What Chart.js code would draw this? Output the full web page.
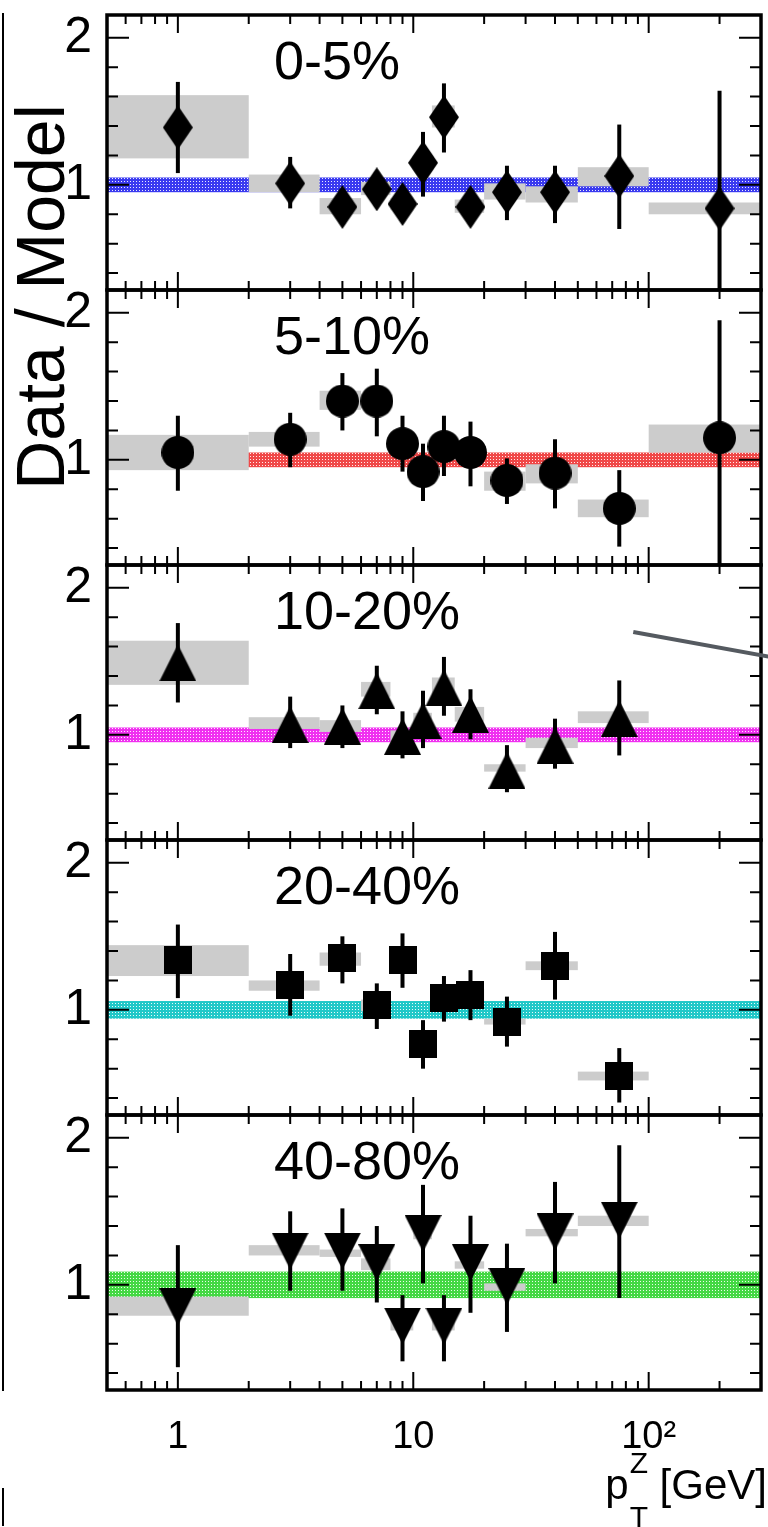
<!DOCTYPE html>
<html>
<head>
<meta charset="utf-8">
<script src="https://cdn.jsdelivr.net/npm/chart.js@4.4.1/dist/chart.umd.min.js"></script>
<style>
  html, body { margin: 0; padding: 0; background: #fff; }
  #wrap { position: relative; width: 768px; height: 1527px; overflow: hidden; font-family: "Liberation Sans", Arial, Helvetica, sans-serif; }
  #wrap canvas { position: absolute; left: 0; }
  #ytitle { position: absolute; left: 40px; top: 297px; transform: translate(-50%, -50%) rotate(-90deg); font-size: 68px; line-height: 1; white-space: nowrap; color: #000; }
  .edge { position: absolute; left: 2px; width: 0; border-left: 2px solid #000; }
</style>
</head>
<body>
<div id="wrap">
  <div class="edge" style="top:13px;height:1378px"></div>
  <div class="edge" style="top:1488px;height:38px"></div>
  <div id="ytitle">Data / Model</div>
  <canvas id="c0" width="768" height="305" style="top:0px"></canvas>
  <canvas id="c1" width="768" height="305" style="top:275px"></canvas>
  <canvas id="c2" width="768" height="305" style="top:550px"></canvas>
  <canvas id="c3" width="768" height="305" style="top:825px"></canvas>
  <canvas id="c4" width="768" height="427" style="top:1100px"></canvas>
</div>
<script>
// pT bins (GeV)
const ptCenters = [1, 3, 5, 7, 9, 11, 13.5, 17.5, 25, 40, 75, 200];
const binLo = [0.5, 2, 4, 6, 8, 10, 12, 15, 20, 30, 50, 100];
const binHi = [2, 4, 6, 8, 10, 12, 15, 20, 30, 50, 100, 300];

const xTickLabels = { 1: '1', 10: '10', 100: '10²' };
const yTickLabels = { 1: '1', 2: '2' };

const centralityLabels = ['0-5%', '5-10%', '10-20%', '20-40%', '40-80%'];

// 0-5%
const ratio0 = [1.39, 1.01, 0.85, 0.97, 0.87, 1.15, 1.46, 0.85, 0.95, 0.95, 1.06, 0.84];
const errHi0 = [1.70, 1.19, 0.95, 1.07, 0.97, 1.36, 1.69, 0.95, 1.13, 1.13, 1.41, 1.64];
const errLo0 = [1.08, 0.84, 0.75, 0.87, 0.77, 0.92, 1.22, 0.76, 0.76, 0.74, 0.70, 0.20];
const sysLo0 = [1.18, 0.95, 0.80, 0.93, 0.83, 1.11, 1.39, 0.81, 0.90, 0.88, 0.99, 0.80];
const sysHi0 = [1.61, 1.07, 0.91, 1.02, 0.91, 1.19, 1.54, 0.90, 1.01, 0.99, 1.12, 0.88];

// 5-10%
const ratio1 = [1.05, 1.14, 1.40, 1.40, 1.11, 0.92, 1.09, 1.05, 0.86, 0.91, 0.67, 1.15];
const errHi1 = [1.30, 1.32, 1.59, 1.62, 1.30, 1.11, 1.30, 1.26, 1.01, 1.14, 0.93, 1.95];
const errLo1 = [0.79, 0.95, 1.20, 1.16, 0.92, 0.72, 0.89, 0.82, 0.70, 0.67, 0.41, 0.20];
const sysLo1 = [0.93, 1.09, 1.34, 1.35, 1.06, 0.88, 1.04, 1.00, 0.79, 0.84, 0.61, 1.05];
const sysHi1 = [1.17, 1.19, 1.47, 1.45, 1.16, 0.97, 1.14, 1.10, 0.92, 0.97, 0.73, 1.24];

// 10-20%
const ratio2 = [1.49, 1.07, 1.06, 1.30, 0.99, 1.10, 1.32, 1.14, 0.76, 0.93, 1.11];
const errHi2 = [1.76, 1.26, 1.20, 1.47, 1.16, 1.30, 1.53, 1.31, 0.93, 1.11, 1.37];
const errLo2 = [1.22, 0.91, 0.91, 1.14, 0.84, 0.91, 1.13, 0.97, 0.61, 0.77, 0.86];
const sysLo2 = [1.34, 1.04, 1.02, 1.26, 0.95, 1.05, 1.26, 1.09, 0.75, 0.91, 1.08];
const sysHi2 = [1.64, 1.12, 1.10, 1.36, 1.03, 1.15, 1.39, 1.19, 0.80, 0.98, 1.16];

// 20-40%
const ratio3 = [1.34, 1.17, 1.35, 1.03, 1.34, 0.77, 1.08, 1.10, 0.92, 1.30, 0.55];
const errHi3 = [1.58, 1.38, 1.50, 1.18, 1.52, 0.93, 1.23, 1.27, 1.09, 1.53, 0.74];
const errLo3 = [1.08, 0.96, 1.18, 0.87, 1.15, 0.60, 0.92, 0.93, 0.75, 1.07, 0.37];
const sysLo3 = [1.23, 1.13, 1.30, 0.99, 1.30, 0.73, 1.04, 1.06, 0.90, 1.27, 0.52];
const sysHi3 = [1.44, 1.20, 1.39, 1.07, 1.38, 0.81, 1.12, 1.14, 0.94, 1.33, 0.58];

// 40-80%
const ratio4 = [0.85, 1.23, 1.23, 1.15, 0.72, 1.35, 0.72, 1.15, 0.99, 1.36, 1.44];
const errHi4 = [1.27, 1.50, 1.52, 1.40, 0.93, 1.68, 0.93, 1.47, 1.28, 1.70, 1.95];
const errLo4 = [0.44, 0.96, 0.96, 0.88, 0.48, 1.01, 0.48, 0.81, 0.68, 1.01, 0.91];
const sysLo4 = [0.79, 1.20, 1.19, 1.10, 0.69, 1.31, 0.69, 1.11, 0.96, 1.33, 1.40];
const sysHi4 = [0.92, 1.27, 1.24, 1.18, 0.76, 1.39, 0.76, 1.16, 1.01, 1.38, 1.47];

// model uncertainty bands
const bandLo = [0.95, 0.95, 0.95, 0.94, 0.91];
const bandHi = [1.05, 1.05, 1.05, 1.06, 1.09];
const bandColors = ['#3a3af0', '#f04848', '#f030f0', '#20c8c8', '#44d844'];

// stray line from the neighbouring panel (data coords of panel 10-20%)
const strayLineX = [86, 330];
const strayLineY = [1.70, 1.53];

const Y_MIN = 0.285, Y_MAX = 2.155;
const X_MIN = 0.5, X_MAX = 300;
const FONT = '"Liberation Sans", Arial, Helvetica, sans-serif';

Chart.defaults.font.family = FONT;
Chart.defaults.color = '#000';

// sparse white dots laid over the solid band colour
function dotPattern(ctx) {
    const c = document.createElement('canvas');
    c.width = 3; c.height = 3;
    const g = c.getContext('2d');
    g.fillStyle = 'rgba(255,255,255,0.9)';
    g.fillRect(1, 1, 1, 1);
    return ctx.createPattern(c, 'repeat');
}

function marker(shape, w, h) {
    const c = document.createElement('canvas');
    c.width = w; c.height = h;
    const g = c.getContext('2d');
    g.fillStyle = '#000';
    g.beginPath();
    if (shape === 'diamond') {
        g.moveTo(w / 2, 0); g.lineTo(w, h / 2); g.lineTo(w / 2, h); g.lineTo(0, h / 2);
    } else if (shape === 'circle') {
        g.arc(w / 2, h / 2, w / 2, 0, Math.PI * 2);
    } else if (shape === 'up') {
        g.moveTo(w / 2, 0); g.lineTo(w, h); g.lineTo(0, h);
    } else if (shape === 'down') {
        g.moveTo(0, 0); g.lineTo(w, 0); g.lineTo(w / 2, h);
    } else {
        g.rect(0, 0, w, h);
    }
    g.closePath();
    g.fill();
    return c;
}

const markers = [
    marker('diamond', 30, 44),
    marker('circle', 33, 33),
    marker('up', 37, 37),
    marker('square', 28, 28),
    marker('down', 37, 37)
];

const panels = [
    { ratio: ratio0, hi: errHi0, lo: errLo0, sLo: sysLo0, sHi: sysHi0 },
    { ratio: ratio1, hi: errHi1, lo: errLo1, sLo: sysLo1, sHi: sysHi1 },
    { ratio: ratio2, hi: errHi2, lo: errLo2, sLo: sysLo2, sHi: sysHi2 },
    { ratio: ratio3, hi: errHi3, lo: errLo3, sLo: sysLo3, sHi: sysHi3 },
    { ratio: ratio4, hi: errHi4, lo: errLo4, sLo: sysLo4, sHi: sysHi4 }
];

// Bands, systematic boxes and error bars under the markers; frame and ticks on top
const panelPlugin = {
    id: 'panel',
    beforeDatasetsDraw(chart, args, opts) {
        const { ctx, chartArea: a, scales: { x, y } } = chart;
        const p = panels[opts.index];
        ctx.save();
        ctx.beginPath();
        ctx.rect(a.left, a.top, a.right - a.left, a.bottom - a.top);
        ctx.clip();

        const bTop = y.getPixelForValue(bandHi[opts.index]);
        const bBot = y.getPixelForValue(bandLo[opts.index]);
        ctx.fillStyle = bandColors[opts.index];
        ctx.fillRect(a.left, bTop, a.right - a.left, bBot - bTop);
        ctx.fillStyle = dotPattern(ctx);
        ctx.fillRect(a.left, bTop, a.right - a.left, bBot - bTop);

        ctx.fillStyle = '#cccccc';
        p.ratio.forEach((v, i) => {
            const x0 = x.getPixelForValue(binLo[i]);
            const x1 = x.getPixelForValue(binHi[i]);
            const y0 = y.getPixelForValue(p.sHi[i]);
            const y1 = y.getPixelForValue(p.sLo[i]);
            ctx.fillRect(x0, y0, x1 - x0, y1 - y0);
        });

        ctx.strokeStyle = '#000';
        ctx.lineWidth = 4;
        p.ratio.forEach((v, i) => {
            const px = x.getPixelForValue(ptCenters[i]);
            ctx.beginPath();
            ctx.moveTo(px, y.getPixelForValue(p.hi[i]));
            ctx.lineTo(px, y.getPixelForValue(p.lo[i]));
            ctx.stroke();
        });
        ctx.restore();
    },
    afterDatasetsDraw(chart, args, opts) {
        const { ctx, chartArea: a, scales: { x, y } } = chart;
        ctx.save();
        ctx.strokeStyle = '#000';
        ctx.lineWidth = 2;

        // x ticks, top and bottom, pointing inwards
        for (let e = -1; e <= 2; e++) {
            for (let m = 1; m <= 9; m++) {
                const v = m * Math.pow(10, e);
                if (v < X_MIN || v > X_MAX) continue;
                const px = x.getPixelForValue(v);
                const len = m === 1 ? 18 : 9;
                ctx.beginPath();
                ctx.moveTo(px, a.top); ctx.lineTo(px, a.top + len);
                ctx.moveTo(px, a.bottom); ctx.lineTo(px, a.bottom - len);
                ctx.stroke();
            }
        }
        // y ticks, left and right
        for (let k = 2; k <= 10; k++) {
            const v = k * 0.2;
            const py = y.getPixelForValue(v);
            const len = (k % 5 === 0) ? 22 : 11;
            ctx.beginPath();
            ctx.moveTo(a.left, py); ctx.lineTo(a.left + len, py);
            ctx.moveTo(a.right, py); ctx.lineTo(a.right - len, py);
            ctx.stroke();
        }

        ctx.lineWidth = 3.5;
        ctx.strokeRect(a.left, a.top, a.right - a.left, a.bottom - a.top);

        ctx.fillStyle = '#000';
        ctx.font = '54px ' + FONT;
        ctx.textBaseline = 'alphabetic';
        ctx.textAlign = 'left';
        ctx.fillText(centralityLabels[opts.index], 274, a.top + 64);

        if (opts.index === 2) {
            ctx.strokeStyle = '#555a60';
            ctx.lineWidth = 4;
            ctx.beginPath();
            ctx.moveTo(x.getPixelForValue(strayLineX[0]), y.getPixelForValue(strayLineY[0]));
            ctx.lineTo(x.getPixelForValue(strayLineX[1]), y.getPixelForValue(strayLineY[1]));
            ctx.stroke();
        }

        if (opts.index === 4) {
            // p_T^Z [GeV]
            const base = a.bottom + 109;
            ctx.textBaseline = 'alphabetic';
            ctx.font = '42px ' + FONT;
            const wP = ctx.measureText('p').width;
            const wRest = ctx.measureText(' [GeV]').width;
            ctx.font = '30px ' + FONT;
            const wS = Math.max(ctx.measureText('Z').width, ctx.measureText('T').width);
            let xs = a.right + 5 - (wP + wS + wRest);
            ctx.font = '42px ' + FONT;
            ctx.fillText('p', xs, base);
            xs += wP + 1;
            ctx.font = '30px ' + FONT;
            ctx.fillText('Z', xs, base - 26);
            ctx.fillText('T', xs, base + 28);
            xs += wS;
            ctx.font = '42px ' + FONT;
            ctx.fillText(' [GeV]', xs, base);
        }
        ctx.restore();
    }
};

panels.forEach((p, idx) => {
    const last = idx === panels.length - 1;
    new Chart(document.getElementById('c' + idx), {
        type: 'scatter',
        data: {
            datasets: [{
                data: p.ratio.map((v, i) => ({ x: ptCenters[i], y: v })),
                pointStyle: markers[idx],
                pointRadius: 6,
                pointHoverRadius: 6
            }]
        },
        options: {
            responsive: false,
            animation: false,
            events: [],
            layout: { padding: { top: 15, right: 7, bottom: last ? 0 : 15, left: 0 } },
            plugins: {
                legend: { display: false },
                tooltip: { enabled: false },
                panel: { index: idx }
            },
            scales: {
                x: {
                    type: 'logarithmic',
                    min: X_MIN,
                    max: X_MAX,
                    display: last,
                    grid: { display: false },
                    border: { display: false },
                    afterBuildTicks: (s) => { s.ticks = Object.keys(xTickLabels).map(v => ({ value: Number(v) })); },
                    afterFit: (s) => {
                        s.height = last ? 137 : 0;
                        s.paddingLeft = 0; s.paddingRight = 0;
                    },
                    ticks: {
                        autoSkip: false,
                        maxRotation: 0,
                        padding: 17,
                        font: { size: 38 },
                        color: '#000',
                        callback: (v) => xTickLabels[v] || ''
                    }
                },
                y: {
                    min: Y_MIN,
                    max: Y_MAX,
                    grid: { display: false },
                    border: { display: false },
                    afterBuildTicks: (s) => { s.ticks = Object.keys(yTickLabels).map(v => ({ value: Number(v) })); },
                    afterFit: (s) => {
                        s.width = 107;
                        s.paddingTop = 0; s.paddingBottom = 0;
                    },
                    ticks: {
                        padding: 7,
                        font: { size: 50 },
                        color: '#000',
                        callback: (v) => yTickLabels[v] || ''
                    }
                }
            }
        },
        plugins: [panelPlugin]
    });
});
</script>
</body>
</html>
